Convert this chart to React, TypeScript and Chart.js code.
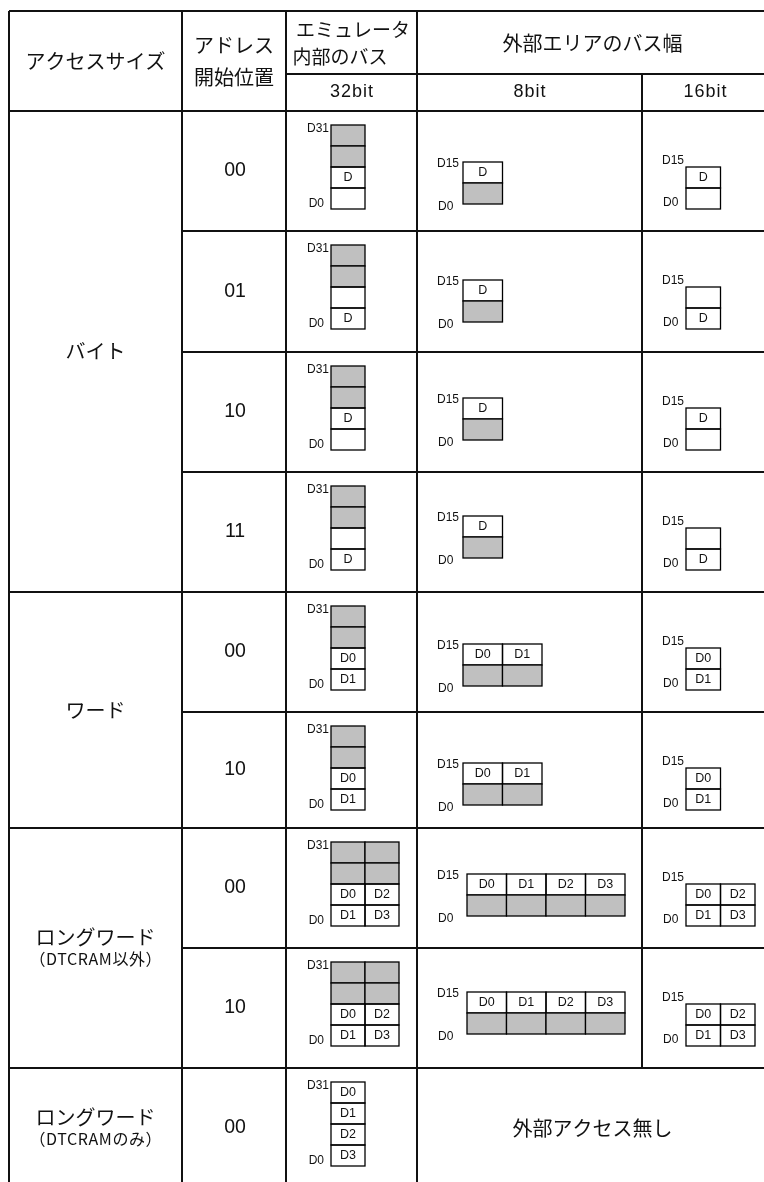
import React, { useEffect, useRef } from "react";
import { Chart, registerables } from "chart.js";

Chart.register(...registerables);

// ---------------- data ----------------
const headerAccess = "アクセスサイズ";
const headerAddress = ["アドレス", "開始位置"];
const headerInternal = ["エミュレータ", "内部のバス"];
const headerExternal = "外部エリアのバス幅";
const busWidths = ["32bit", "8bit", "16bit"];

const accessGroups = ["バイト", "ワード", "ロングワード", "ロングワード"];
const accessNotes = ["", "", "（DTCRAM以外）", "（DTCRAMのみ）"];
const groupRowCounts = [4, 2, 2, 1];
const startAddresses = ["00", "01", "10", "11", "00", "10", "00", "10", "00"];

// "#" = unused (grey) lane, "" = empty lane, other = data byte
const internalBus32: string[][][] = [
  [["#"], ["#"], ["D"], [""]],
  [["#"], ["#"], [""], ["D"]],
  [["#"], ["#"], ["D"], [""]],
  [["#"], ["#"], [""], ["D"]],
  [["#"], ["#"], ["D0"], ["D1"]],
  [["#"], ["#"], ["D0"], ["D1"]],
  [["#", "#"], ["#", "#"], ["D0", "D2"], ["D1", "D3"]],
  [["#", "#"], ["#", "#"], ["D0", "D2"], ["D1", "D3"]],
  [["D0"], ["D1"], ["D2"], ["D3"]],
];
const externalBus8: (string[][] | null)[] = [
  [["D"], ["#"]],
  [["D"], ["#"]],
  [["D"], ["#"]],
  [["D"], ["#"]],
  [["D0", "D1"], ["#", "#"]],
  [["D0", "D1"], ["#", "#"]],
  [["D0", "D1", "D2", "D3"], ["#", "#", "#", "#"]],
  [["D0", "D1", "D2", "D3"], ["#", "#", "#", "#"]],
  null,
];
const externalBus16: (string[][] | null)[] = [
  [["D"], [""]],
  [[""], ["D"]],
  [["D"], [""]],
  [[""], ["D"]],
  [["D0"], ["D1"]],
  [["D0"], ["D1"]],
  [["D0", "D2"], ["D1", "D3"]],
  [["D0", "D2"], ["D1", "D3"]],
  null,
];
const bitLabels32 = ["D31", "D0"];
const bitLabels16 = ["D15", "D0"];
const noExternalText = "外部アクセス無し";

// ---------------- layout ----------------
const W = 764;
const H = 1182;
const L = {
  colX: [9, 182, 286, 417, 642, 768],
  headerY: [11, 74, 111],
  rowTops: [111, 231, 352, 472, 592, 712, 828, 948, 1068],
  bottom: 1188,
  reg32: { left: 331, top: 14, cw: 34, ch: 21 },
  reg8: { left: 463, leftWide: 467, cw: 39.5, ch: 21 },
  reg8Top: [51, 49, 46, 44, 52, 51, 46, 44, 0],
  reg16: { left: 686, top: 56, cw: 34.5, ch: 21 },
};
const JP = '"Noto Sans CJK JP", sans-serif';
const LAT = '"Liberation Sans", Arial, sans-serif';
const GREY = "#c0c0c0";
const INK = "#111";

const tablePlugin = {
  id: "busTable",
  beforeDraw(chart: any) {
    const ctx: CanvasRenderingContext2D = chart.ctx;
    const xs = chart.scales.x;
    const ys = chart.scales.y;
    const X = (v: number) => xs.getPixelForValue(v);
    const Y = (v: number) => ys.getPixelForValue(v);

    ctx.save();
    ctx.fillStyle = "#fff";
    ctx.fillRect(0, 0, chart.width, chart.height);

    const text = (s: string, x: number, y: number, font: string, align: CanvasTextAlign = "center", spacing = 0) => {
      ctx.font = font;
      ctx.fillStyle = INK;
      ctx.textAlign = align;
      ctx.textBaseline = "middle";
      (ctx as any).letterSpacing = `${spacing}px`;
      const shift = align === "center" ? spacing / 2 : 0;
      ctx.fillText(s, X(x) + shift, Y(y));
      (ctx as any).letterSpacing = "0px";
    };

    const line = (x0: number, y0: number, x1: number, y1: number, w = 2) => {
      ctx.strokeStyle = INK;
      ctx.lineWidth = w;
      ctx.beginPath();
      ctx.moveTo(X(x0), Y(y0));
      ctx.lineTo(X(x1), Y(y1));
      ctx.stroke();
    };

    const reg = (left: number, top: number, cw: number, ch: number, grid: string[][]) => {
      grid.forEach((row, r) => {
        row.forEach((cell, c) => {
          const x0 = X(left + c * cw);
          const y0 = Y(top + r * ch);
          const w = X(left + (c + 1) * cw) - x0;
          const h = Y(top + (r + 1) * ch) - y0;
          if (cell === "#") {
            ctx.fillStyle = GREY;
            ctx.fillRect(x0, y0, w, h);
          }
          ctx.strokeStyle = "#000";
          ctx.lineWidth = 1.3;
          ctx.strokeRect(x0, y0, w, h);
          if (cell && cell !== "#") {
            text(cell, left + (c + 0.5) * cw, top + (r + 0.5) * ch + 0.5, `12.5px ${LAT}`);
          }
        });
      });
    };

    const cx = L.colX;
    const R = cx[5];
    const rows = L.rowTops;
    const rowBottom = (i: number) => (i + 1 < rows.length ? rows[i + 1] : L.bottom);

    // ---- headers ----
    text(headerAccess, (cx[0] + cx[1]) / 2, 61, `20px ${JP}`);
    text(headerAddress[0], (cx[1] + cx[2]) / 2, 45, `20px ${JP}`);
    text(headerAddress[1], (cx[1] + cx[2]) / 2, 77, `20px ${JP}`);
    text(headerInternal[0], 353, 30, `19px ${JP}`);
    text(headerInternal[1], 340, 57, `19px ${JP}`);
    text(headerExternal, (cx[3] + R) / 2, 43, `20px ${JP}`);
    text(busWidths[0], (cx[2] + cx[3]) / 2, 92, `18px ${LAT}`, "center", 1);
    text(busWidths[1], (cx[3] + cx[4]) / 2, 92, `18px ${LAT}`, "center", 1);
    text(busWidths[2], (cx[4] + R) / 2, 92, `18px ${LAT}`, "center", 1);

    // ---- group labels ----
    let gi = 0;
    const groupStarts: number[] = [];
    accessGroups.forEach((g, k) => {
      const top = rows[gi];
      const bot = rowBottom(gi + groupRowCounts[k] - 1);
      groupStarts.push(gi);
      const mid = (top + bot) / 2;
      const gx = (cx[0] + cx[1]) / 2;
      if (accessNotes[k]) {
        text(g, gx, mid - 11, `20px ${JP}`);
        text(accessNotes[k], gx, mid + 11, `16px ${JP}`, "center", 0.6);
      } else {
        text(g, gx, mid, `20px ${JP}`);
      }
      gi += groupRowCounts[k];
    });

    // ---- rows ----
    startAddresses.forEach((a, i) => {
      const top = rows[i];
      const bot = rowBottom(i);
      text(a, (cx[1] + cx[2]) / 2 + 1, (top + bot) / 2, `19.5px ${LAT}`);

      // internal 32-bit bus
      const g32 = internalBus32[i];
      const r32 = L.reg32;
      const t32 = top + r32.top;
      reg(r32.left, t32, r32.cw, r32.ch, g32);
      text(bitLabels32[0], r32.left - 2, t32 + 4, `12px ${LAT}`, "right");
      text(bitLabels32[1], r32.left - 7, t32 + g32.length * r32.ch - 5, `12px ${LAT}`, "right");

      const g8 = externalBus8[i];
      if (g8) {
        const r8 = L.reg8;
        const left = g8[0].length >= 4 ? r8.leftWide : r8.left;
        const t8 = top + L.reg8Top[i];
        reg(left, t8, r8.cw, r8.ch, g8);
        text(bitLabels16[0], 437, t8 + 2, `12px ${LAT}`, "left");
        text(bitLabels16[1], 438, t8 + g8.length * r8.ch + 3, `12px ${LAT}`, "left");
      }
      const g16 = externalBus16[i];
      if (g16) {
        const r16 = L.reg16;
        const t16 = top + r16.top;
        reg(r16.left, t16, r16.cw, r16.ch, g16);
        text(bitLabels16[0], 662, t16 - 6, `12px ${LAT}`, "left");
        text(bitLabels16[1], 663, t16 + g16.length * r16.ch - 6, `12px ${LAT}`, "left");
      }
      if (!g8 && !g16) {
        text(noExternalText, (cx[3] + R) / 2, (top + bot) / 2, `20px ${JP}`);
      }
    });

    // ---- grid lines ----
    line(cx[0], L.headerY[0], R, L.headerY[0]);
    line(cx[2], L.headerY[1], R, L.headerY[1]);
    line(cx[0], L.headerY[2], R, L.headerY[2]);
    for (let i = 1; i < rows.length; i++) {
      const isGroupStart = groupStarts.includes(i);
      line(isGroupStart ? cx[0] : cx[1], rows[i], R, rows[i]);
    }
    [0, 1, 2, 3, 5].forEach((k) => line(cx[k], L.headerY[0], cx[k], L.bottom));
    const firstNoExt = externalBus8.findIndex((g) => g === null);
    line(cx[4], L.headerY[1], cx[4], firstNoExt >= 0 ? rows[firstNoExt] : L.bottom);

    ctx.restore();
  },
};

export default function App() {
  const ref = useRef<HTMLCanvasElement>(null);
  useEffect(() => {
    if (!ref.current) return;
    const chart = new Chart(ref.current, {
      type: "scatter",
      data: { datasets: [{ data: [] }] },
      options: {
        animation: false,
        responsive: false,
        devicePixelRatio: 1,
        events: [],
        layout: { padding: 0 },
        plugins: { legend: { display: false }, tooltip: { enabled: false } },
        scales: {
          x: { type: "linear", min: 0, max: W, display: false },
          y: { type: "linear", min: 0, max: H, reverse: true, display: false },
        },
      },
      plugins: [tablePlugin],
    } as any);
    return () => chart.destroy();
  }, []);
  return (
    <div style={{ position: "absolute", left: 0, top: 0, width: W, height: H, background: "#fff", overflow: "hidden" }}>
      <canvas ref={ref} width={W} height={H} style={{ display: "block", width: W, height: H }} />
    </div>
  );
}
